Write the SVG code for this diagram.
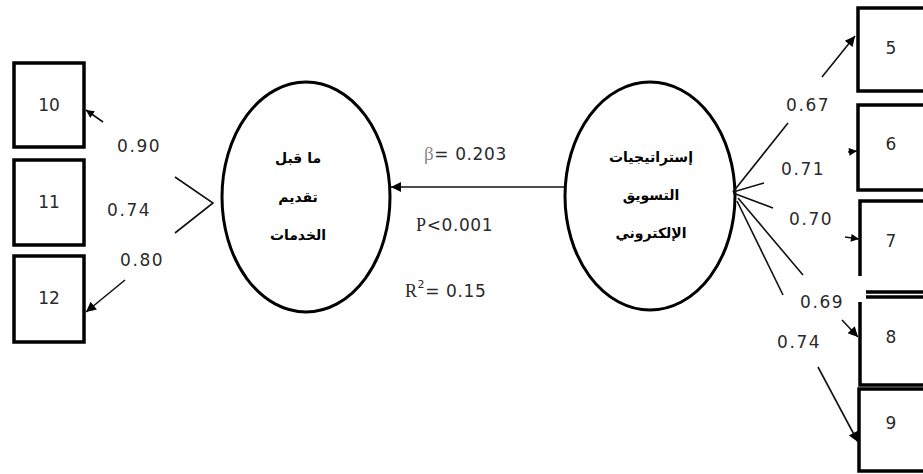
<svg xmlns="http://www.w3.org/2000/svg" width="923" height="474" viewBox="0 0 923 474">
  <style>
    .box { fill: #fff; stroke: #000; stroke-width: 3.5; }
    .edge { fill: none; stroke: #000; stroke-width: 3.5; }
    .latent { fill: #fff; stroke: #000; stroke-width: 3; }
    .ln { fill: none; stroke: #111; stroke-width: 1.6; }
    .num { font-family: "DejaVu Sans", sans-serif; font-size: 17px; fill: #2a2a2a; letter-spacing: 1.6px; }
    .idx { font-family: "DejaVu Sans", sans-serif; font-size: 17px; fill: #2a2a2a; text-anchor: middle; }
    .ar { font-family: "DejaVu Sans", "Noto Sans", sans-serif; font-weight: bold; font-size: 14px; fill: #000; text-anchor: middle; }
    .serif { font-family: "Liberation Serif", serif; }
  </style>
  <defs>
    <marker id="head" viewBox="0 0 10 10" refX="10" refY="5" markerWidth="10" markerHeight="8" markerUnits="userSpaceOnUse" orient="auto">
      <path d="M0,0 L10,5 L0,10 z" fill="#000"/>
    </marker>
    <marker id="headL" viewBox="0 0 10 10" refX="10" refY="5" markerWidth="13" markerHeight="10" markerUnits="userSpaceOnUse" orient="auto">
      <path d="M0,0 L10,5 L0,10 z" fill="#000"/>
    </marker>
  </defs>

  <rect width="923" height="474" fill="#fff"/>

  <!-- indicators on the left -->
  <g id="ind10"><rect class="box" x="14" y="63" width="70" height="84"/><text class="idx" x="49" y="111">10</text></g>
  <g id="ind11"><rect class="box" x="14" y="160" width="70" height="85"/><text class="idx" x="49" y="208">11</text></g>
  <g id="ind12"><rect class="box" x="14" y="256" width="70" height="86"/><text class="idx" x="49" y="304">12</text></g>

  <!-- indicators on the right -->
  <g id="ind5"><rect class="box" x="858" y="8" width="80" height="83"/><text class="idx" x="891" y="54">5</text></g>
  <g id="ind6"><rect class="box" x="858" y="105" width="80" height="85"/><text class="idx" x="891" y="150">6</text></g>
  <g id="ind7"><path class="edge" d="M860,276 V201 H930 M866,292 H930"/><text class="idx" x="891" y="247">7</text></g>
  <g id="ind8"><path class="edge" d="M866,297 H930 M860,302 V385 H930"/><text class="idx" x="891" y="343">8</text></g>
  <g id="ind9"><rect class="box" x="859" y="389" width="80" height="82"/><text class="idx" x="891" y="429">9</text></g>

  <!-- latent constructs -->
  <g id="service">
    <ellipse class="latent" cx="306" cy="197" rx="84" ry="115"/>
    <text class="ar" x="298" y="163">ما قبل</text>
    <text class="ar" x="298" y="202">تقديم</text>
    <text class="ar" x="298" y="240">الخدمات</text>
  </g>
  <g id="marketing">
    <ellipse class="latent" cx="650" cy="196" rx="85" ry="114"/>
    <text class="ar" x="651" y="162">إستراتيجيات</text>
    <text class="ar" x="651" y="200">التسويق</text>
    <text class="ar" x="651" y="238">الإلكتروني</text>
  </g>

  <!-- connectors -->
  <g id="connectors">
    <!-- structural path -->
    <line class="ln" x1="565" y1="187" x2="391" y2="187" marker-end="url(#headL)"/>
    <!-- left loadings -->
    <polyline class="ln" points="175,177 213,203 175,233"/>
    <line class="ln" x1="103" y1="122" x2="86" y2="110" marker-end="url(#head)"/>
    <line class="ln" x1="125" y1="280" x2="86" y2="312" marker-end="url(#headL)"/>
    <!-- right loadings -->
    <line class="ln" x1="733" y1="192" x2="788" y2="123"/>
    <line class="ln" x1="822" y1="77" x2="855" y2="36" marker-end="url(#headL)"/>
    <line class="ln" x1="733" y1="192" x2="764" y2="183"/>
    <line class="ln" x1="848" y1="152" x2="857" y2="151" marker-end="url(#head)"/>
    <line class="ln" x1="733" y1="193" x2="773" y2="208"/>
    <line class="ln" x1="845" y1="237" x2="859" y2="239" marker-end="url(#head)"/>
    <line class="ln" x1="738" y1="198" x2="803" y2="275"/>
    <line class="ln" x1="737" y1="201" x2="783" y2="295"/>
    <line class="ln" x1="842" y1="320" x2="858" y2="337" marker-end="url(#headL)"/>
    <line class="ln" x1="818" y1="367" x2="858" y2="442" marker-end="url(#headL)"/>
  </g>

  <!-- loading values -->
  <text class="num" x="117" y="152">0.90</text>
  <text class="num" x="107" y="216">0.74</text>
  <text class="num" x="120" y="266">0.80</text>
  <text class="num" x="786" y="111">0.67</text>
  <text class="num" x="781" y="175">0.71</text>
  <text class="num" x="789" y="225">0.70</text>
  <text class="num" x="800" y="308">0.69</text>
  <text class="num" x="777" y="348">0.74</text>

  <!-- path statistics -->
  <text class="num" x="424" y="160" style="letter-spacing:0.6px"><tspan class="serif" fill="#8a8a8a" font-size="19">β</tspan>= 0.203</text>
  <text class="num" x="416" y="231" style="letter-spacing:0.6px"><tspan class="serif" font-size="18">P</tspan>&lt;0.001</text>
  <text class="num" x="405" y="297" style="letter-spacing:0.6px"><tspan class="serif" font-size="18">R</tspan><tspan font-size="11" dy="-9">2</tspan><tspan dy="9">= 0.15</tspan></text>
</svg>
